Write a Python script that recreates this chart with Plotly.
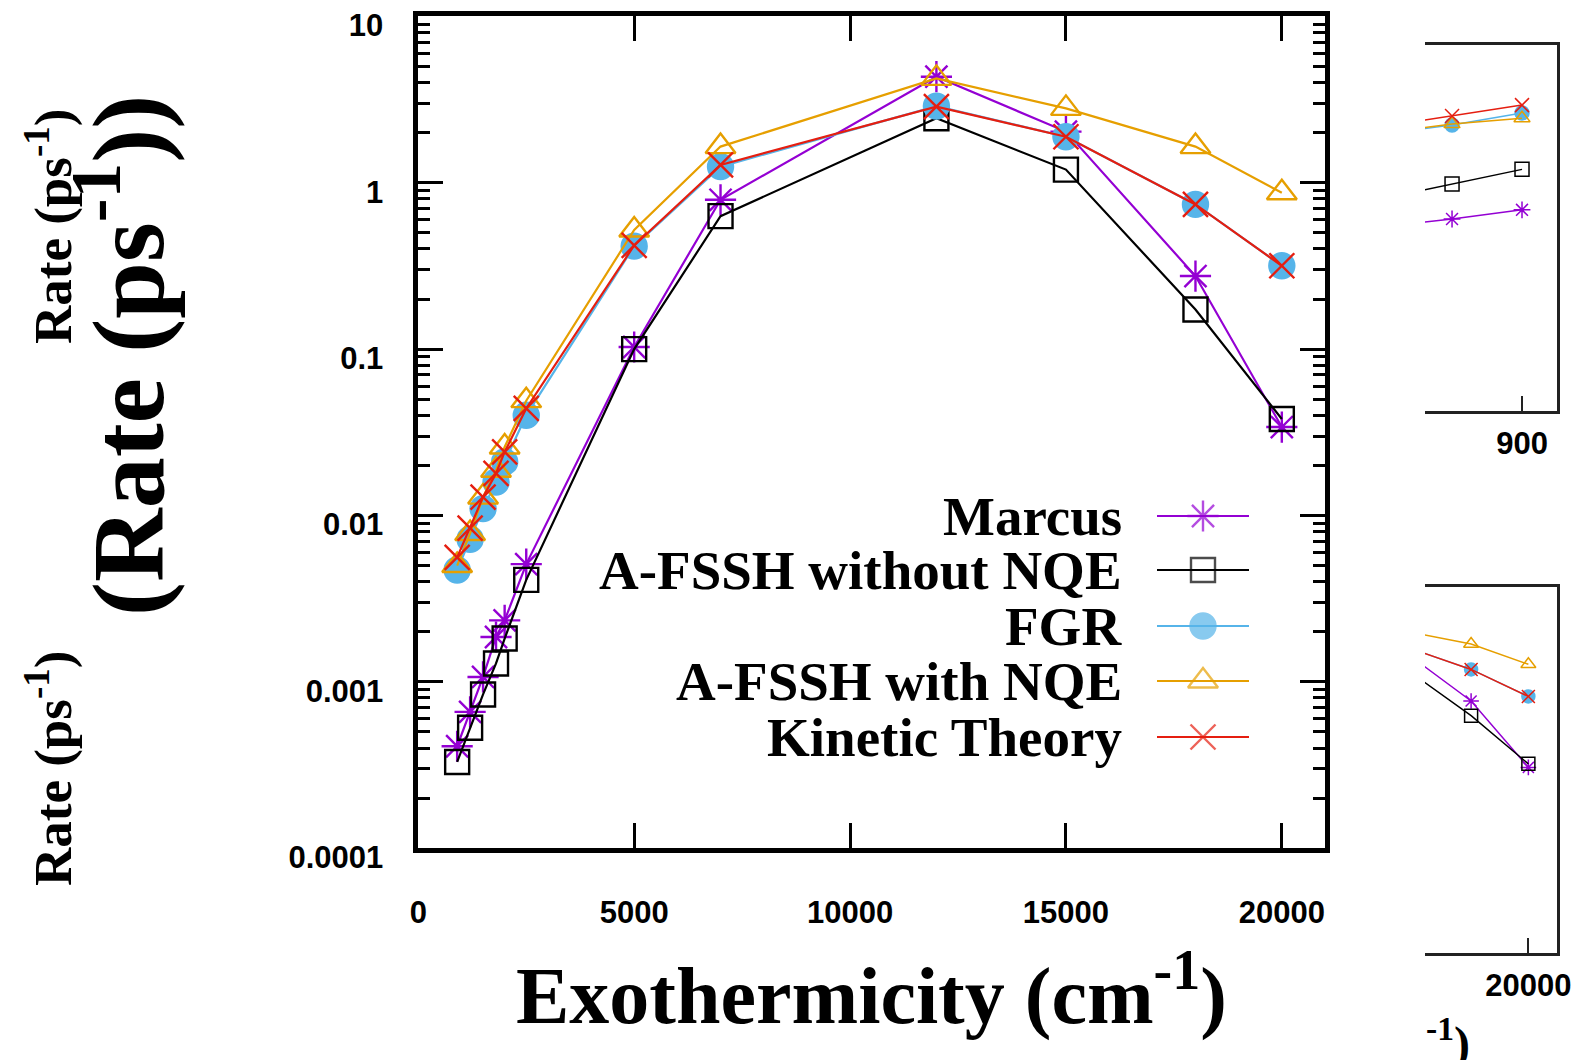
import plotly.graph_objects as go

W, H = 1580, 1060

# ---------------- data (main panel) ----------------
exo = [900, 1200, 1500, 1800, 2000, 2500, 5000, 7000, 12000, 15000, 18000, 20000]
marcus = [4.1e-4, 6.6e-4, 1.07e-3, 1.86e-3, 2.34e-3, 5.1e-3, 0.103, 0.79, 4.34, 2.03, 0.275, 0.034]
afssh_no_nqe = [3.3e-4, 5.3e-4, 8.4e-4, 1.29e-3, 1.82e-3, 4.1e-3, 0.100, 0.63, 2.44, 1.20, 0.173, 0.038]
fgr = [4.7e-3, 7.2e-3, 0.0110, 0.0159, 0.0210, 0.040, 0.416, 1.25, 2.89, 1.89, 0.741, 0.317]
afssh_nqe = [5.0e-3, 7.8e-3, 0.0129, 0.0187, 0.0258, 0.049, 0.52, 1.65, 4.24, 2.80, 1.65, 0.871]
kinetic = [5.6e-3, 8.4e-3, 0.0129, 0.0179, 0.0241, 0.044, 0.42, 1.28, 2.87, 1.89, 0.741, 0.317]

series_names = ["Marcus", "A-FSSH without NQE", "FGR", "A-FSSH with NQE", "Kinetic Theory"]

# ---------------- data (partly hidden neighbouring panel, top right) ----------------
top_x = [680, 790, 900]
top_marcus = [0.033, 0.042, 0.056]
top_afssh_no = [0.079, 0.126, 0.20]
top_fgr = [0.60, 0.81, 1.18]
top_afssh_nqe = [0.63, 0.83, 1.00]
top_kinetic = [0.77, 1.07, 1.51]

# tick labels
y_tickvals = [1e-4, 1e-3, 1e-2, 1e-1, 1, 10]
y_ticktext = ["0.0001", "0.001", "0.01", "0.1", "1", "10"]
x_tickvals = [0, 5000, 10000, 15000, 20000]
x_ticktext = ["0", "5000", "10000", "15000", "20000"]

# ---------------- styles ----------------
colors = ["#9400D3", "#000000", "#56B4E9", "#E69F00", "#E51E10"]
symbols = ["asterisk-open", "square-open", "circle", "triangle-up-open", "x-thin-open"]
msizes = [26, 24, 25, 26, 25]

def px_x(p):
    return p / W

def px_y(p):
    return 1 - p / H

fig = go.Figure()

main_series = [marcus, afssh_no_nqe, fgr, afssh_nqe, kinetic]
for name, ys, c, s, ms in zip(series_names, main_series, colors, symbols, msizes):
    fig.add_trace(go.Scatter(
        x=exo, y=ys, mode="lines+markers", name=name,
        line=dict(color=c, width=2.2),
        marker=dict(symbol=s, size=ms, color=c, line=dict(color=c, width=2.4)),
        xaxis="x", yaxis="y", showlegend=False, cliponaxis=False))

# top-right fragment
top_series = [top_marcus, top_afssh_no, top_fgr, top_afssh_nqe, top_kinetic]
for name, ys, c, s in zip(series_names, top_series, colors, symbols):
    fig.add_trace(go.Scatter(
        x=top_x, y=ys, mode="lines+markers", name=name,
        line=dict(color=c, width=1.5),
        marker=dict(symbol=s, size=14, color=c, line=dict(color=c, width=1.5)),
        xaxis="x2", yaxis="y2", showlegend=False))

# bottom-right fragment (same data, other panel)
for name, ys, c, s in zip(series_names, main_series, colors, symbols):
    fig.add_trace(go.Scatter(
        x=exo, y=ys, mode="lines+markers", name=name,
        line=dict(color=c, width=1.5),
        marker=dict(symbol=s, size=13, color=c, line=dict(color=c, width=1.5)),
        xaxis="x3", yaxis="y3", showlegend=False))

# legend keys (overlay in pixel space)
leg_y = [516, 570, 626, 681, 737]
key_x0, key_xm, key_x1 = 1157, 1203, 1249
for name, c, s, ms, yy in zip(series_names, colors, symbols, msizes, leg_y):
    fig.add_trace(go.Scatter(
        x=[key_x0, key_xm, key_x1], y=[yy, yy, yy], mode="lines+markers",
        line=dict(color=c, width=2.2),
        marker=dict(symbol=s, size=[0, ms, 0], color=c, line=dict(color=c, width=2.4)),
        xaxis="x4", yaxis="y4", showlegend=False, hoverinfo="skip"))

tickfont = dict(family="Liberation Sans", size=31, color="black", weight="bold")

minor_vals = [m * 10 ** e for e in range(-4, 1) for m in range(2, 10)]

fig.update_layout(
    width=W, height=H, margin=dict(l=0, r=0, t=0, b=0, pad=0, autoexpand=False),
    paper_bgcolor="white", plot_bgcolor="rgba(0,0,0,0)",
    xaxis=dict(domain=[px_x(418.3), px_x(1325)], range=[0, 21000],
               tickmode="array", tickvals=x_tickvals, ticktext=x_ticktext,
               ticks="inside", ticklen=25, tickwidth=3, tickcolor="black",
               showline=True, linewidth=4.5, linecolor="black", mirror="allticks",
               showgrid=False, zeroline=False, tickfont=tickfont,
               ticklabelstandoff=33, ticklabeloverflow="allow", anchor="y"),
    yaxis=dict(domain=[px_y(848.2), px_y(16.4)], type="log", range=[-4, 1],
               tickmode="array", tickvals=y_tickvals, ticktext=y_ticktext,
               ticks="inside", ticklen=25, tickwidth=3, tickcolor="black",
               minor=dict(tickmode="array", tickvals=minor_vals, ticks="inside",
                          ticklen=12, tickwidth=3, tickcolor="black", showgrid=False),
               showline=True, linewidth=4.5, linecolor="black", mirror="allticks",
               showgrid=False, zeroline=False, tickfont=tickfont,
               ticklabelstandoff=24, ticklabelshift=9, ticklabeloverflow="allow",
               anchor="x"),
    xaxis2=dict(domain=[px_x(1425), px_x(1557)], range=[747.5, 955],
                tickmode="array", tickvals=[900], ticktext=["900"],
                ticks="inside", ticklen=15, tickwidth=1.5, tickcolor="#222",
                showline=True, linewidth=2.5, linecolor="#222", mirror=True,
                showgrid=False, zeroline=False, tickfont=tickfont,
                ticklabelstandoff=3, ticklabeloverflow="allow", anchor="y2"),
    yaxis2=dict(domain=[px_y(411), px_y(45)], type="log", range=[-4, 1],
                showticklabels=False, ticks="", side="right",
                showline=True, linewidth=2.5, linecolor="#222", mirror=False,
                showgrid=False, zeroline=False, anchor="x2"),
    xaxis3=dict(domain=[px_x(1425), px_x(1557)], range=[16390, 21000],
                tickmode="array", tickvals=[20000], ticktext=["20000"],
                ticks="inside", ticklen=15, tickwidth=1.5, tickcolor="#222",
                showline=True, linewidth=2.5, linecolor="#222", mirror=True,
                showgrid=False, zeroline=False, tickfont=tickfont,
                ticklabelstandoff=3, ticklabeloverflow="allow", anchor="y3"),
    yaxis3=dict(domain=[px_y(952.7), px_y(586.7)], type="log", range=[-4, 1],
                showticklabels=False, ticks="", side="right",
                showline=True, linewidth=2.5, linecolor="#222", mirror=False,
                showgrid=False, zeroline=False, anchor="x3"),
    xaxis4=dict(domain=[0, 1], range=[0, W], visible=False, fixedrange=True, anchor="y4"),
    yaxis4=dict(domain=[0, 1], range=[H, 0], visible=False, fixedrange=True, anchor="x4"),
    showlegend=False,
)

serif_b = dict(family="Liberation Serif", color="black", weight="bold")

annotations = []
# legend texts
for name, yy in zip(series_names, leg_y):
    annotations.append(dict(x=px_x(1124), y=px_y(yy), xref="paper", yref="paper",
                            text=name, showarrow=False, xanchor="right", yanchor="middle",
                            font=dict(size=55, **serif_b)))
# x title
annotations.append(dict(x=px_x(871), y=px_y(990), xref="paper", yref="paper",
                        text="Exothermicity (cm<sup>-1</sup>)", showarrow=False,
                        xanchor="center", yanchor="middle", font=dict(size=80, **serif_b)))
# y title
annotations.append(dict(x=px_x(121), y=px_y(356), xref="paper", yref="paper",
                        text="(Rate (ps<sup>-1</sup>))", showarrow=False, textangle=-90,
                        xanchor="center", yanchor="middle", font=dict(size=102, **serif_b)))
# neighbouring-panel y titles
for yy in (226, 768):
    annotations.append(dict(x=px_x(49), y=px_y(yy), xref="paper", yref="paper",
                            text="Rate (ps<sup>-1</sup>)", showarrow=False, textangle=-90,
                            xanchor="center", yanchor="middle", font=dict(size=53, **serif_b)))
# fragment of neighbouring x title
annotations.append(dict(x=px_x(1424), y=px_y(1040), xref="paper", yref="paper",
                        text="<sup>-1</sup>)", showarrow=False,
                        xanchor="left", yanchor="middle", font=dict(size=48, **serif_b)))
fig.update_layout(annotations=annotations)

fig.write_html("out.html")
